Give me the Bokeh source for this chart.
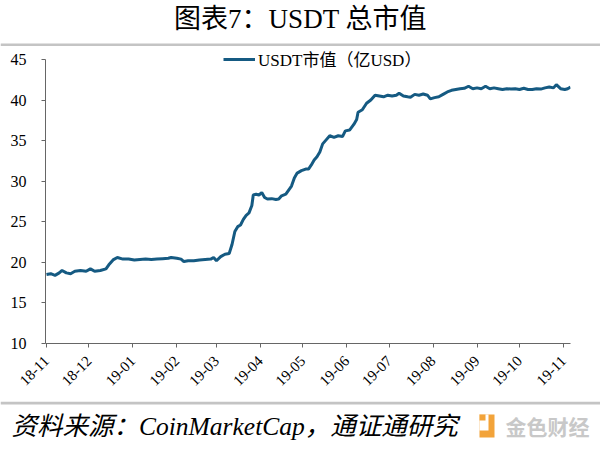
import pandas as pd
from bokeh.plotting import figure
from bokeh.models import Range1d, FixedTicker, Legend, LegendItem, Label
from bokeh.layouts import column, row
from bokeh.embed import file_html
from bokeh.resources import INLINE
from math import pi

# ---- data ----
start_date = "2018-11-01"
day_offsets = [0, 3, 6, 9, 11, 14, 17, 20, 24, 28, 31, 34, 38, 42, 44, 47, 50, 54, 58, 62,
               66, 70, 74, 78, 82, 86, 88, 92, 95, 97, 100, 104, 108, 112, 116, 118, 120, 123,
               126, 129, 131, 133, 135, 137, 139, 141, 143, 145, 146, 148, 150, 152, 154, 156,
               159, 162, 164, 166, 169, 171, 173, 175, 177, 180, 183, 185, 187, 189, 191, 193,
               195, 197, 200, 203, 206, 209, 211, 214, 217, 219, 220, 223, 226, 229, 232, 235,
               238, 241, 244, 247, 249, 252, 255, 257, 260, 263, 266, 269, 271, 274, 277, 280,
               283, 286, 289, 292, 295, 298, 301, 304, 307, 310, 313, 316, 319, 322, 325, 328,
               331, 334, 337, 340, 343, 346, 349, 352, 355, 358, 360, 363, 366, 368, 370]
usdt_cap = [18.5, 18.6, 18.4, 18.7, 19.0, 18.7, 18.6, 18.9, 19.0, 18.9, 19.2, 18.9, 19.0, 19.2,
            19.7, 20.3, 20.6, 20.4, 20.4, 20.3, 20.35, 20.4, 20.35, 20.4, 20.45, 20.5, 20.6,
            20.5, 20.4, 20.1, 20.2, 20.2, 20.3, 20.35, 20.4, 20.6, 20.2, 20.7, 21.0, 21.1, 22.2,
            23.8, 24.4, 24.6, 25.3, 25.8, 26.1, 27.0, 28.3, 28.4, 28.3, 28.6, 28.0, 27.8, 27.85,
            27.75, 27.8, 28.2, 28.4, 28.9, 29.4, 30.4, 31.0, 31.3, 31.5, 31.5, 32.0, 32.6, 33.0,
            33.6, 34.6, 35.0, 35.6, 35.4, 35.6, 35.5, 36.2, 36.3, 37.0, 37.6, 38.5, 38.8, 39.6,
            40.0, 40.6, 40.5, 40.4, 40.6, 40.5, 40.6, 40.85, 40.5, 40.4, 40.35, 40.7, 40.6,
            40.75, 40.6, 40.15, 40.3, 40.4, 40.7, 41.0, 41.2, 41.3, 41.4, 41.45, 41.7, 41.4,
            41.5, 41.4, 41.7, 41.4, 41.5, 41.4, 41.3, 41.4, 41.35, 41.4, 41.3, 41.45, 41.3,
            41.3, 41.4, 41.35, 41.5, 41.6, 41.5, 41.9, 41.4, 41.3, 41.4, 41.6]
tick_dates = ["2018-11-01", "2018-12-01", "2019-01-01", "2019-02-01", "2019-03-01",
              "2019-04-01", "2019-05-01", "2019-06-01", "2019-07-01", "2019-08-01",
              "2019-09-01", "2019-10-01", "2019-11-01"]
tick_labels = ["18-11", "18-12", "19-01", "19-02", "19-03", "19-04", "19-05", "19-06",
               "19-07", "19-08", "19-09", "19-10", "19-11"]
y_ticks = [10, 15, 20, 25, 30, 35, 40, 45]
series_name = "USDT市值（亿USD）"
title_text = "图表7：USDT 总市值"
source_text = "资料来源：CoinMarketCap，通证通研究"
logo_text = "金色财经"

dates = pd.to_datetime(start_date) + pd.to_timedelta(day_offsets, unit="D")
tick_ms = [int(pd.Timestamp(d).value // 10**6) for d in tick_dates]

SERIF = "'Liberation Serif', 'Noto Sans CJK SC'"
W = 600
RULE = "#c4c4c4"


def strip(height):
    f = figure(width=W, height=height, output_backend="svg", toolbar_location=None,
               x_range=Range1d(0, W), y_range=Range1d(0, height),
               x_axis_location=None, y_axis_location=None,
               min_border=0, min_border_left=0, min_border_right=0,
               min_border_top=0, min_border_bottom=0)
    f.outline_line_color = None
    f.xgrid.visible = False
    f.ygrid.visible = False
    f.border_fill_color = "white"
    f.background_fill_color = "white"
    return f


# ---- title strip (46 px incl. rule) ----
ft = strip(46)
ft.add_layout(Label(x=W / 2, y=28, text=title_text, text_font=SERIF,
                    text_font_size="27px", text_align="center", text_baseline="middle",
                    text_color="#000000"))
ft.quad(left=[0], right=[W], bottom=[0], top=[3], fill_color=RULE, line_color=None)

# ---- main chart ----
p = figure(width=W, height=355, x_axis_type="datetime", output_backend="svg",
           toolbar_location=None, min_border_left=45, min_border_right=30,
           min_border_top=3, min_border_bottom=58)
p.x_range = Range1d(pd.Timestamp(start_date) - pd.Timedelta(hours=17),
                    pd.Timestamp("2019-11-06"))
p.y_range = Range1d(10, 46.23)
p.outline_line_color = None
p.xgrid.visible = False
p.ygrid.visible = False
p.background_fill_color = "white"
p.border_fill_color = "white"

r = p.line(dates, usdt_cap, line_color="#155a82", line_width=3)

ax = p.xaxis[0]
ax.ticker = FixedTicker(ticks=tick_ms)
ax.major_label_overrides = {t: l for t, l in zip(tick_ms, tick_labels)}
ax.major_label_orientation = pi / 4
ax.minor_tick_line_color = None
ax.major_tick_in = 0
ax.major_tick_out = 4
ax.major_label_standoff = 11
ax.axis_line_color = "#666666"
ax.major_tick_line_color = "#666666"
ax.major_label_text_font = SERIF
ax.major_label_text_font_size = "15px"
ax.major_label_text_color = "#000000"

ay = p.yaxis[0]
ay.ticker = FixedTicker(ticks=y_ticks)
ay.bounds = (10, 45)
ay.minor_tick_line_color = None
ay.major_tick_in = 0
ay.major_tick_out = 4
ay.major_label_standoff = 15
ay.axis_line_color = "#666666"
ay.major_tick_line_color = "#666666"
ay.major_label_text_font = SERIF
ay.major_label_text_font_size = "16px"
ay.major_label_text_color = "#000000"

legend = Legend(items=[LegendItem(label=series_name, renderers=[r])],
                location=(178, 272), orientation="horizontal",
                padding=0, margin=0, spacing=0, glyph_width=32, glyph_height=20,
                label_standoff=3, border_line_color=None, background_fill_alpha=0,
                label_text_font=SERIF, label_text_font_size="17px",
                label_text_color="#000000")
p.add_layout(legend)

# ---- footer strip (56 px incl. rule) ----
fb = strip(56)
fb.quad(left=[0], right=[W], bottom=[53], top=[56], fill_color=RULE, line_color=None)
fb.add_layout(Label(x=11, y=31, text=source_text, text_font=SERIF,
                    text_font_size="25.5px", text_font_style="italic",
                    text_align="left", text_baseline="middle", text_color="#000000"))
fb.quad(left=[479], right=[494], bottom=[20], top=[43], fill_color="#f2a33a", line_color=None)
fb.quad(left=[479], right=[488], bottom=[27], top=[43], fill_color="white", line_color=None)
fb.quad(left=[479], right=[485], bottom=[37], top=[43], fill_color="#f2a33a", line_color=None)
fb.add_layout(Label(x=505, y=32, text=logo_text, text_font="Noto Sans CJK SC",
                    text_font_size="21px", text_font_style="bold",
                    text_align="left", text_baseline="middle", text_color="#c8c8c8"))

layout = column(row(ft), row(p), row(fb), spacing=0)
open("out.html", "w").write(file_html(layout, INLINE))
